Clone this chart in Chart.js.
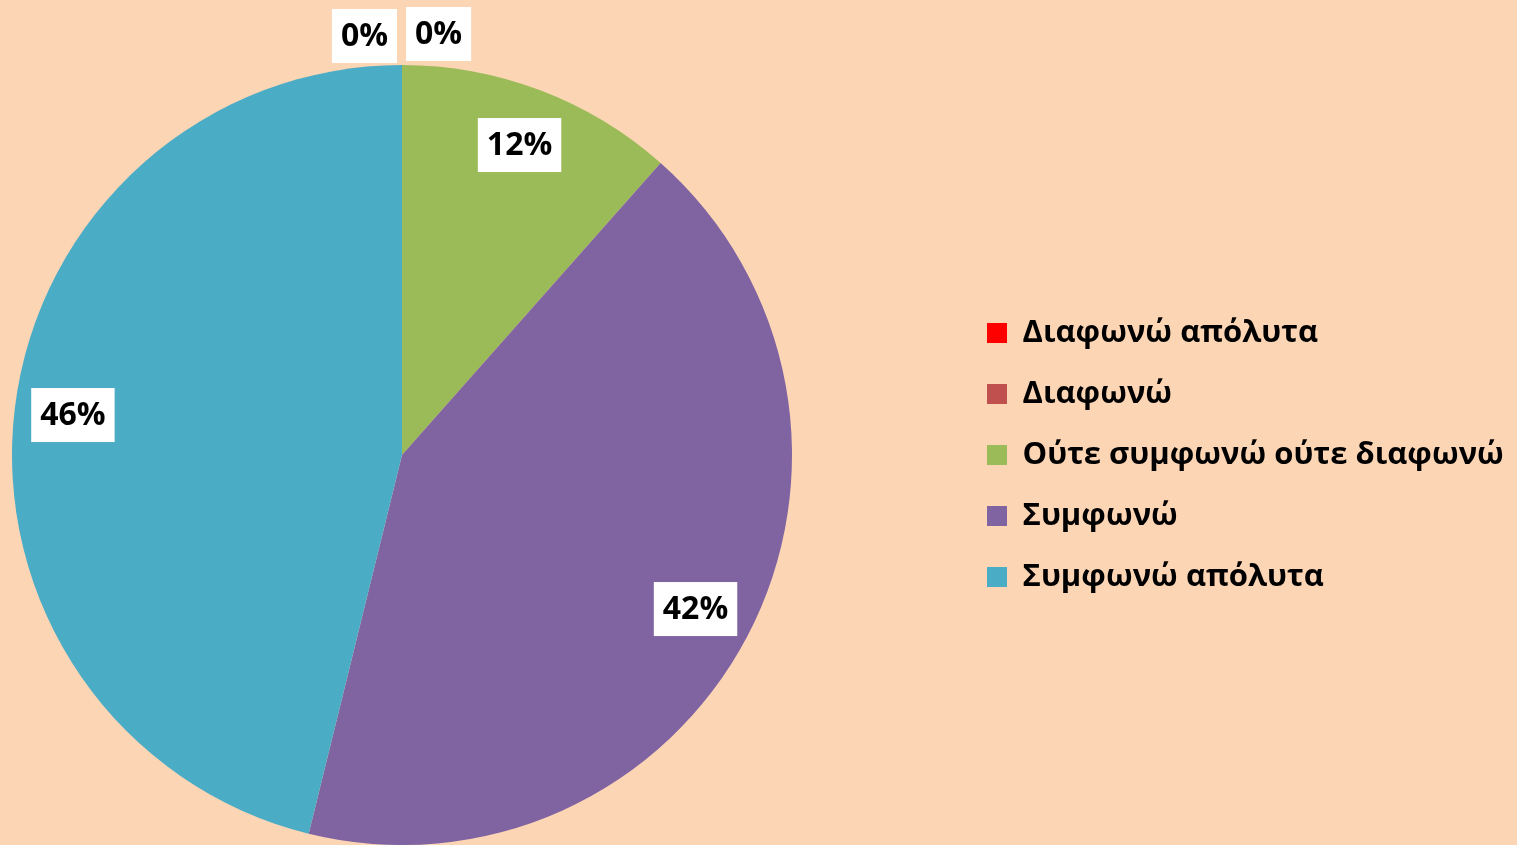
<!DOCTYPE html>
<html>
<head>
<meta charset="utf-8">
<script src="https://cdn.jsdelivr.net/npm/chart.js@4/dist/chart.umd.min.js"></script>
<style>
  html, body { margin: 0; padding: 0; background: #FCD5B5; }
  canvas { display: block; }
</style>
</head>
<body>
<canvas id="myChart" width="1517" height="845"></canvas>
<script>
const categories = ["Διαφωνώ απόλυτα", "Διαφωνώ", "Ούτε συμφωνώ ούτε διαφωνώ", "Συμφωνώ", "Συμφωνώ απόλυτα"];
const answers = [0, 0, 3, 11, 12];
const colors = ["#FF0000", "#C0504D", "#9BBB59", "#8064A2", "#4BACC6"];

const FONT = '"Open Sans", "Noto Sans", sans-serif';
const pad = { top: 65, left: 12, right: 0, bottom: 0 };

// Make the legend take all the room right of a square chart area,
// then move it to where the items should sit
const legendPlacer = {
  id: "legendPlacer",
  beforeUpdate(chart) {
    const lg = chart.legend;
    if (!lg || lg._patched) return;
    const origFit = lg.fit.bind(lg);
    lg.fit = function () {
      origFit();
      this.width = chart.width - pad.left - (chart.height - pad.top - pad.bottom);
    };
    lg._patched = true;
  },
  afterLayout(chart) {
    const lg = chart.legend;
    const p = lg.options.labels.padding;
    lg.left = 987 - p;
    lg.right = lg.left + lg.width;
  },
};

// Percentage labels in white boxes
const pctLabels = {
  id: "pctLabels",
  afterDatasetsDraw(chart) {
    const ctx = chart.ctx;
    const meta = chart.getDatasetMeta(0);
    const total = answers.reduce((a, b) => a + b, 0);
    let zeroCount = 0;
    ctx.save();
    ctx.font = "bold 32px " + FONT;
    ctx.textAlign = "center";
    ctx.textBaseline = "middle";
    meta.data.forEach((arc, i) => {
      const v = answers[i];
      const text = Math.round((v / total) * 100) + "%";
      const { x, y, startAngle, endAngle, outerRadius } = arc.getProps(
        ["x", "y", "startAngle", "endAngle", "outerRadius"], true);
      const mid = (startAngle + endAngle) / 2;
      const w = ctx.measureText(text).width + 18;
      const h = 54;
      let cx, cy;
      if (v === 0) {
        const r = outerRadius + 30;
        cx = x + Math.cos(mid) * r + (zeroCount === 0 ? -(w / 2 + 5) : (w / 2 + 4));
        cy = y + Math.sin(mid) * r + (zeroCount === 0 ? 1 : -1);
        zeroCount++;
      } else {
        const r = outerRadius * 0.85;
        cx = x + Math.cos(mid) * r;
        cy = y + Math.sin(mid) * r;
      }
      ctx.fillStyle = "#FFFFFF";
      ctx.fillRect(cx - w / 2, cy - h / 2, w, h);
      ctx.fillStyle = "#000000";
      ctx.fillText(text, cx, cy + 1);
    });
    ctx.restore();
  },
};

const myChart = new Chart(document.getElementById("myChart"), {
  type: "pie",
  data: {
    labels: categories,
    datasets: [
      {
        data: answers,
        backgroundColor: colors,
        borderWidth: 0,
      },
    ],
  },
  options: {
    responsive: false,
    animation: false,
    devicePixelRatio: 1,
    layout: { padding: pad },
    plugins: {
      tooltip: { enabled: false },
      legend: {
        position: "right",
        labels: {
          boxWidth: 20,
          boxHeight: 20,
          padding: 30,
          color: "#000000",
          font: { family: FONT, size: 31, weight: "bold" },
        },
      },
    },
  },
  plugins: [legendPlacer, pctLabels],
});
</script>
</body>
</html>
